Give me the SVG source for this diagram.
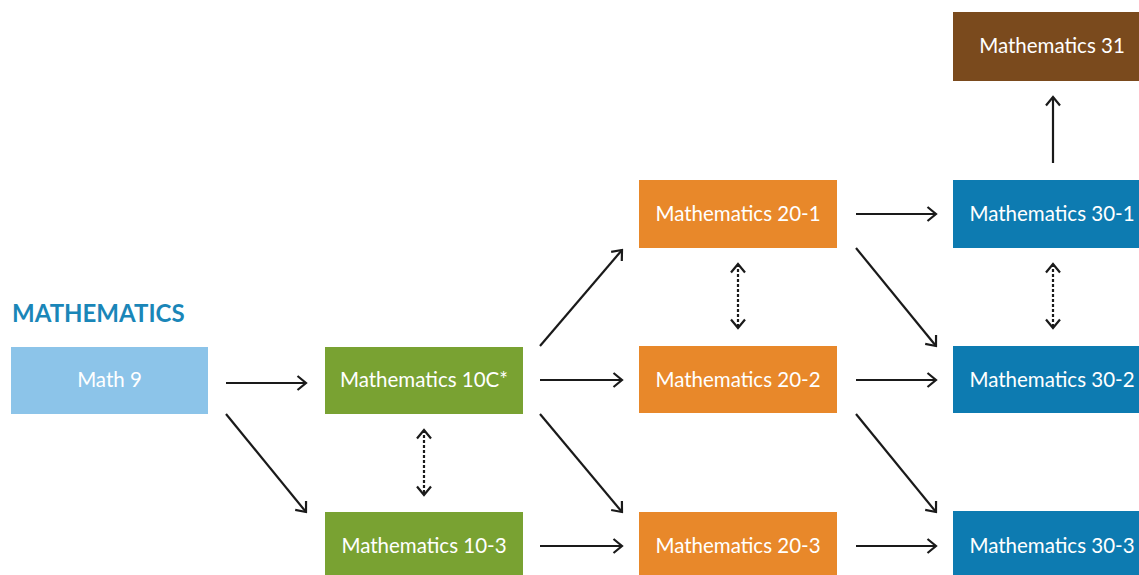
<svg xmlns="http://www.w3.org/2000/svg" width="1139" height="575" viewBox="0 0 1139 575">
<style>
.box-text{font-family:"Lato","Liberation Sans",sans-serif;font-size:20.5px;fill:#ffffff;text-anchor:middle}
.c{stroke:#1a1a1a;stroke-width:2.2;fill:none}
.d{stroke:#1a1a1a;stroke-width:2.2;fill:none;stroke-dasharray:3 2}
.title{font-family:"Lato","Liberation Sans",sans-serif;font-weight:bold;font-size:24px;fill:#1a86b8}
</style>
<defs>
<marker id="ah" markerWidth="12" markerHeight="16" refX="10" refY="8" orient="auto-start-reverse" markerUnits="userSpaceOnUse">
<path d="M1.5,1 L10,8 L1.5,15" stroke="#1a1a1a" stroke-width="2.2" fill="none"/>
</marker>
</defs>
<rect width="1139" height="575" fill="#ffffff"/>
<text class="title" x="12" y="322">MATHEMATICS</text>
<g id="math9"><rect x="11" y="347" width="197" height="67" fill="#8cc4e9"/><text class="box-text" x="109.5" y="387">Math 9</text></g>
<g id="math10c"><rect x="325" y="347" width="198" height="67" fill="#79a232"/><text class="box-text" x="424" y="387">Mathematics 10C*</text></g>
<g id="math10-3"><rect x="325" y="512" width="198" height="67" fill="#79a232"/><text class="box-text" x="424" y="553">Mathematics 10-3</text></g>
<g id="math20-1"><rect x="639" y="180" width="198" height="68" fill="#e8882a"/><text class="box-text" x="738" y="221">Mathematics 20-1</text></g>
<g id="math20-2"><rect x="639" y="346" width="198" height="67" fill="#e8882a"/><text class="box-text" x="738" y="387">Mathematics 20-2</text></g>
<g id="math20-3"><rect x="639" y="512" width="198" height="67" fill="#e8882a"/><text class="box-text" x="738" y="553">Mathematics 20-3</text></g>
<g id="math30-1"><rect x="953" y="180" width="198" height="68" fill="#0d7bb1"/><text class="box-text" x="1052" y="221">Mathematics 30-1</text></g>
<g id="math30-2"><rect x="953" y="346" width="198" height="67" fill="#0d7bb1"/><text class="box-text" x="1052" y="387">Mathematics 30-2</text></g>
<g id="math30-3"><rect x="953" y="511" width="198" height="68" fill="#0d7bb1"/><text class="box-text" x="1052" y="553">Mathematics 30-3</text></g>
<g id="math31"><rect x="953" y="12" width="198" height="69" fill="#7a4a1d"/><text class="box-text" x="1052" y="53">Mathematics 31</text></g>
<g id="connectors">
<line class="c" x1="226" y1="383" x2="306" y2="383" marker-end="url(#ah)"/>
<line class="c" x1="226" y1="414" x2="306" y2="512" marker-end="url(#ah)"/>
<line class="c" x1="540" y1="346" x2="622" y2="250" marker-end="url(#ah)"/>
<line class="c" x1="540" y1="380" x2="622" y2="380" marker-end="url(#ah)"/>
<line class="c" x1="540" y1="414" x2="622" y2="512" marker-end="url(#ah)"/>
<line class="c" x1="540" y1="546" x2="622" y2="546" marker-end="url(#ah)"/>
<line class="d" x1="424" y1="430" x2="424" y2="495" marker-start="url(#ah)" marker-end="url(#ah)"/>
<line class="c" x1="856" y1="214" x2="936" y2="214" marker-end="url(#ah)"/>
<line class="c" x1="856" y1="248" x2="936" y2="346" marker-end="url(#ah)"/>
<line class="d" x1="738" y1="264" x2="738" y2="328" marker-start="url(#ah)" marker-end="url(#ah)"/>
<line class="c" x1="856" y1="380" x2="936" y2="380" marker-end="url(#ah)"/>
<line class="c" x1="856" y1="414" x2="936" y2="512" marker-end="url(#ah)"/>
<line class="c" x1="856" y1="546" x2="936" y2="546" marker-end="url(#ah)"/>
<line class="d" x1="1053" y1="264" x2="1053" y2="328" marker-start="url(#ah)" marker-end="url(#ah)"/>
<line class="c" x1="1053" y1="163" x2="1053" y2="97" marker-end="url(#ah)"/>
</g>
</svg>
